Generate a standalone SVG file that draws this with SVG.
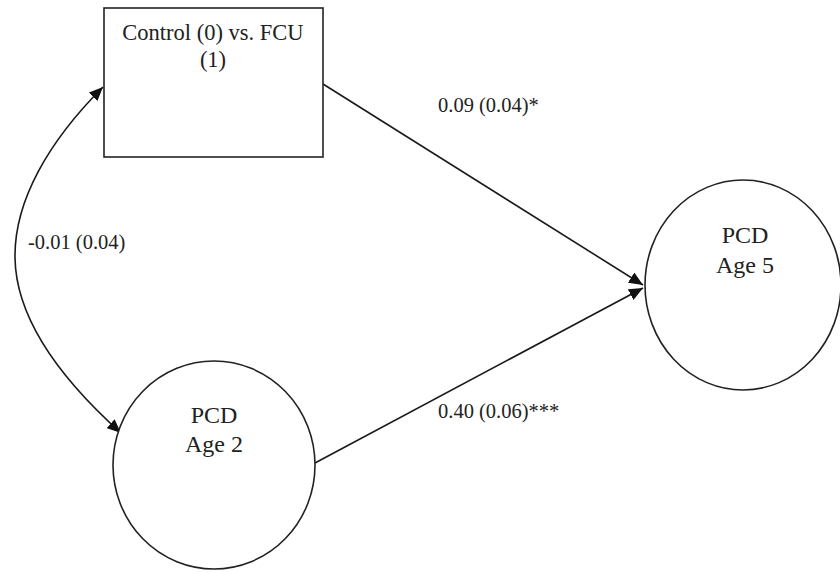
<svg xmlns="http://www.w3.org/2000/svg" width="840" height="572" viewBox="0 0 840 572">
<style>
.node{fill:#fff;stroke:#222;stroke-width:1.6}
.lbl{font-family:'Liberation Serif','Tinos','Times New Roman','DejaVu Serif',serif;fill:#222}
.nt{font-size:24px;text-anchor:middle}
.et{font-size:20.5px}
.edge{fill:none;stroke:#1a1a1a;stroke-width:1.6}
</style>
<defs>
<marker id="ah" markerUnits="userSpaceOnUse" markerWidth="16" markerHeight="12" refX="14" refY="6" orient="auto-start-reverse">
<path d="M0,0 L14,6 L0,12 Z" fill="#111"/>
</marker>
</defs>
<rect width="840" height="572" fill="#fff"/>
<g id="connectors">
<path class="edge" d="M323,84 L643,285" marker-end="url(#ah)"/>
<path class="edge" d="M315,463 L643,288" marker-end="url(#ah)"/>
<path class="edge" d="M103,87 C50,140 14,200 15,258 C16,320 62,380 121,433" marker-start="url(#ah)" marker-end="url(#ah)"/>
</g>
<g id="node-control">
<rect class="node" x="104" y="8" width="219" height="149"/>
<text class="lbl" x="213" y="40" font-size="22.5" text-anchor="middle">Control (0) vs. FCU</text>
<text class="lbl" x="213" y="67" font-size="22.5" text-anchor="middle">(1)</text>
</g>
<g id="node-age2">
<ellipse class="node" cx="214" cy="465" rx="101" ry="104"/>
<text class="lbl nt" x="214" y="423">PCD</text>
<text class="lbl nt" x="214" y="452">Age 2</text>
</g>
<g id="node-age5">
<ellipse class="node" cx="743" cy="285" rx="98" ry="105"/>
<text class="lbl nt" x="745" y="243">PCD</text>
<text class="lbl nt" x="745" y="273">Age 5</text>
</g>
<g id="edge-labels">
<text class="lbl et" x="438" y="112">0.09 (0.04)*</text>
<text class="lbl et" x="438" y="418">0.40 (0.06)***</text>
<text class="lbl et" x="28" y="249">-0.01 (0.04)</text>
</g>
</svg>
